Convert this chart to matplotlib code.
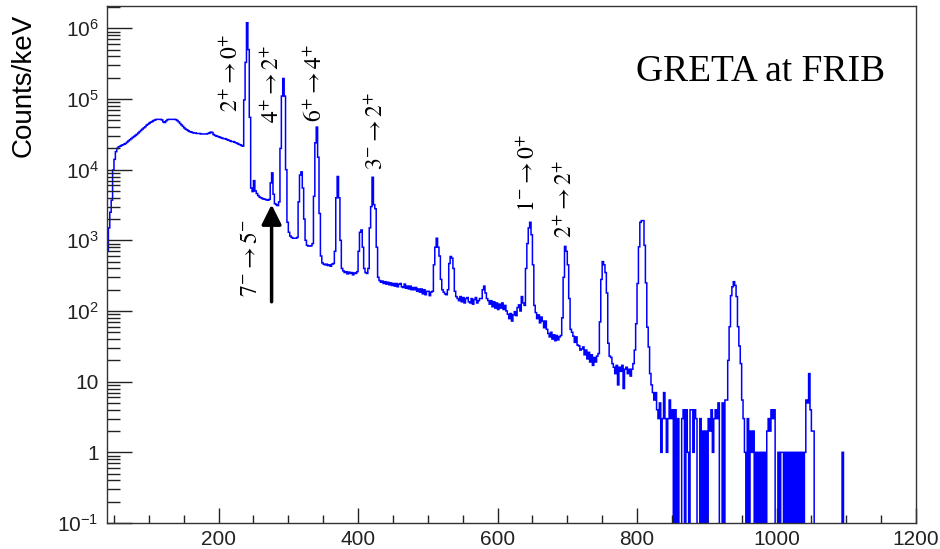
import numpy as np
import matplotlib.pyplot as plt
from matplotlib.ticker import FixedLocator, FixedFormatter, MultipleLocator, LogLocator, NullFormatter

# ---------- spectrum (counts/keV), 2 keV bins starting at 40 keV ----------
E_START = 40
BIN_WIDTH = 2
counts = [
    700, 1500, 2500, 3700, 9900, 14000, 18000, 20000, 21000, 21500,            # 40
    22000, 22500, 23000, 23500, 24500, 25500, 26500, 27500, 28500, 29500,      # 60
    30500, 31500, 33000, 34500, 36000, 37500, 39000, 40500, 42500, 44000,      # 80
    45500, 47000, 48000, 49500, 50500, 51500, 51500, 51500, 51500, 50500,      # 100
    47500, 46500, 49000, 51000, 51500, 51500, 51500, 51500, 51500, 51000,      # 120
    49500, 47500, 45000, 43000, 41000, 39000, 37500, 36500, 35500, 34500,      # 140
    34000, 33500, 33000, 33000, 32500, 32500, 32500, 32000, 32000, 32000,      # 160
    32000, 32000, 32500, 33000, 34000, 33500, 31500, 30500, 30000, 29500,      # 180
    29000, 28500, 28000, 27500, 27500, 27000, 26500, 26000, 25500, 25000,      # 200
    25000, 24500, 24000, 23500, 23000, 22500, 22000, 21500, 97000, 330000,     # 220
    1200000, 500000, 55000, 5500, 4900, 7000, 5000, 4600, 4300, 4100,          # 240
    4000, 3900, 3850, 3800, 3750, 3700, 3800, 6500, 9000, 4500,                # 260
    3300, 3200, 3100, 3500, 20000, 110000, 195000, 110000, 10000, 1800,        # 280
    1300, 1150, 1100, 1070, 1070, 1070, 1100, 3500, 8400, 9300,                # 300
    5500, 2000, 1000, 850, 830, 830, 840, 900, 4200, 24000,                    # 320
    40000, 15000, 2400, 600, 480, 460, 450, 460, 440, 450,                     # 340
    430, 460, 470, 700, 4000, 8000, 4000, 1000, 400, 370,                      # 360
    350, 360, 335, 355, 340, 350, 325, 345, 340, 360,                          # 380
    700, 1300, 1400, 800, 400, 350, 340, 400, 1500, 3000,                      # 400
    7800, 3200, 2800, 800, 300, 270, 255, 265, 245, 260,                       # 420
    240, 255, 235, 250, 230, 245, 225, 245, 220, 240,                          # 440
    245, 220, 215, 240, 210, 225, 205, 225, 200, 215,                          # 460
    200, 215, 190, 205, 185, 205, 175, 200, 170, 190,                          # 480
    190, 165, 185, 190, 450, 800, 1070, 800, 600, 280,                         # 500
    200, 185, 175, 170, 200, 470, 590, 560, 400, 190,                          # 520
    160, 150, 140, 160, 135, 155, 130, 150, 155, 135,                          # 540
    130, 150, 125, 145, 155, 130, 140, 150, 150, 200,                          # 560
    225, 180, 150, 140, 125, 140, 115, 135, 110, 130,                          # 580
    105, 125, 110, 130, 105, 120, 100, 90, 78, 92,                             # 600
    72, 88, 98, 86, 112, 122, 100, 160, 130, 120,                              # 620
    400, 900, 1500, 1800, 1200, 450, 120, 95, 78, 88,                          # 640
    68, 82, 72, 58, 72, 55, 48, 43, 50, 40,                                    # 660
    46, 38, 45, 39, 43, 45, 80, 300, 820, 700,                                 # 680
    450, 150, 55, 50, 44, 36, 43, 33, 32, 28,                                  # 700
    29, 31, 24, 28, 21, 26, 19, 24, 17, 22,                                    # 720
    19, 23, 25, 70, 280, 500, 450, 350, 180, 35,                               # 740
    23, 22, 18, 16, 13, 17, 9, 16, 14, 17,                                     # 760
    8, 15, 16, 13, 15, 12, 15, 18, 28, 66,                                     # 780
    245, 810, 1800, 1900, 1900, 850, 250, 59, 31, 13,                          # 800
    9, 7, 5.5, 7, 4, 3, 5, 1, 3, 7,                                            # 820
    3, 1, 3, 5.5, 3, 4, 0, 4, 0, 3,                                            # 840
    0, 0, 3, 4, 0, 4, 1, 0, 4, 4,                                              # 860
    1, 4, 3, 0, 0, 3, 0, 2, 0, 2,                                              # 880
    0, 3, 2, 4, 1, 3, 4, 3, 5, 0,                                              # 900
    0, 5, 0, 5.5, 5.5, 20, 60, 165, 220, 260,                                  # 920
    230, 160, 60, 32, 18, 5.5, 3, 1, 0, 3,                                     # 940
    0, 2, 1, 2, 0, 1, 0, 1, 0, 1,                                              # 960
    0, 1, 0, 2, 3, 2, 4, 3, 4, 0,                                              # 980
    0, 1, 0, 1, 1, 0, 1, 0, 1, 0,                                              # 1000
    1, 0, 1, 0, 1, 0, 1, 0, 1, 0,                                              # 1020
    1, 5.5, 5, 13, 4, 2, 2, 0, 0, 0,                                           # 1040
    0, 0, 0, 0, 0, 0, 0, 0, 0, 0,                                              # 1060
    0, 0, 0, 0, 0, 0, 0, 1, 0, 0,                                              # 1080
]

# ---------- transition labels ----------
line_labels = [r"$2^{+}\rightarrow 0^{+}$", r"$4^{+}\rightarrow 2^{+}$", r"$6^{+}\rightarrow 4^{+}$",
               r"$3^{-}\rightarrow 2^{+}$", r"$1^{-}\rightarrow 0^{+}$", r"$2^{+}\rightarrow 2^{+}$",
               r"$7^{-}\rightarrow 5^{-}$"]
line_label_e = [218, 277, 340, 426, 644, 698, 247]
line_label_y = [6.5e4, 4.6e4, 4.7e4, 9.9e3, 2.5e3, 1.07e3, 157]

arrow_e = 276
arrow_tip, arrow_tail = 3200, 135

y_ticks = [0.1, 1, 10, 1e2, 1e3, 1e4, 1e5, 1e6]
y_tick_labels = [r"$\mathregular{10^{-1}}$", "1", "10", r"$\mathregular{10^{2}}$", r"$\mathregular{10^{3}}$",
                 r"$\mathregular{10^{4}}$", r"$\mathregular{10^{5}}$", r"$\mathregular{10^{6}}$"]

counts = np.array(counts, dtype=float)
edges = E_START + BIN_WIDTH * np.arange(len(counts) + 1)
shown = np.where(counts > 0, counts, 1e-4)  # empty bins drop to the bottom like ROOT

plt.rcParams["font.family"] = ["Liberation Sans", "DejaVu Sans"]
serif = ["Liberation Serif", "DejaVu Serif"]
fig = plt.figure(figsize=(9.4, 5.49), dpi=100)
ax = fig.add_axes([107/940, 1 - 523/549, (916-107)/940, (523-6)/549])

ax.stairs(shown, edges, baseline=None, color="#0000ff", lw=1.1)
ax.set_yscale("log")
ax.set_xlim(40, 1200)
ax.set_ylim(0.1, 2.07e6)

ax.yaxis.set_major_locator(FixedLocator(y_ticks))
ax.yaxis.set_major_formatter(FixedFormatter(y_tick_labels))
ax.yaxis.set_minor_locator(LogLocator(base=10, subs=np.arange(2, 10)))
ax.yaxis.set_minor_formatter(NullFormatter())
ax.xaxis.set_major_locator(MultipleLocator(200))
ax.xaxis.set_minor_locator(MultipleLocator(50))

ax.tick_params(axis="y", which="major", direction="in", length=18, width=1, pad=6, labelsize=15, colors="#222222")
ax.tick_params(axis="y", which="minor", direction="in", length=9, width=1, colors="#222222")
ax.tick_params(axis="x", which="major", direction="in", length=11, width=1, pad=5, labelsize=15, colors="#222222")
ax.tick_params(axis="x", which="minor", direction="in", length=6, width=1, colors="#222222")
for s in ax.spines.values():
    s.set_color("#333333"); s.set_linewidth(1.0)

fig.text(24/940, 1 - 85/549, "Counts/keV", rotation=90, ha="center", va="center", fontsize=20)

for lab, e, y in zip(line_labels, line_label_e, line_label_y):
    ax.text(e, y, lab, rotation=90, ha="center", va="bottom", fontsize=17, math_fontfamily="stix")

ax.annotate("", xy=(arrow_e, arrow_tip), xytext=(arrow_e, arrow_tail),
            arrowprops=dict(arrowstyle="-|>,head_width=0.3,head_length=0.6", mutation_scale=20,
                            lw=2.5, color="black", shrinkA=0, shrinkB=0))

ax.text(0.9617, 0.872, "GRETA at FRIB", transform=ax.transAxes, ha="right", va="center",
        fontsize=27, family=serif)

fig.savefig("out.png", dpi=100)
